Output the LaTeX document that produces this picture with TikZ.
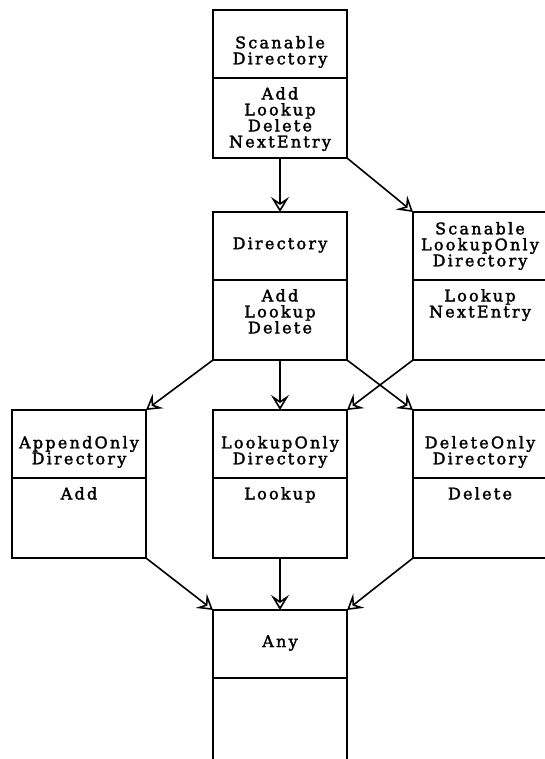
\documentclass[tikz,border=0pt]{standalone}
\usepackage{fontspec}
\setmainfont[LetterSpace=14,FakeBold=2]{DejaVu Serif}
\usetikzlibrary{arrows.meta}

\tikzset{
  classbox/.style={draw,line width=1.6pt,minimum width=134pt,minimum height=148pt,
    inner sep=0pt,outer sep=0pt},
  classname/.style={align=center,inner sep=0pt,font=\fontsize{16}{16}\selectfont},
  classops/.style={align=center,inner sep=0pt,anchor=north,font=\fontsize{16}{16}\selectfont},
  inherit/.style={line width=1.6pt,-{Stealth[open,length=15pt,width=18pt,inset=6pt]}}
}

\begin{document}
\begin{tikzpicture}[x=1pt,y=-1pt]
  \useasboundingbox (0,0) rectangle (545,759);

  % the class boxes, placed by their top left corner
  \node[classbox,anchor=north west] (sdir) at (213,10) {};
  \node[classbox,anchor=north west] (dir) at (213,212) {};
  \node[classbox,anchor=north west] (slod) at (413,212) {};
  \node[classbox,anchor=north west] (aodir) at (12,410) {};
  \node[classbox,anchor=north west] (lodir) at (213,410) {};
  \node[classbox,anchor=north west] (dodir) at (413,410) {};
  \node[classbox,anchor=north west,minimum height=156pt] (any) at (213,610) {};

  % line between name and operations
  \foreach \b in {sdir,dir,slod,aodir,lodir,dodir,any}
    \draw[line width=1.6pt] ([yshift=-68pt]\b.north west) -- ([yshift=-68pt]\b.north east);

  % names
  \node[classname] (sdir-name) at ([yshift=-42pt]sdir.north) {Scanable\\Directory};
  \node[classname] (dir-name) at ([yshift=-33pt]dir.north) {Directory};
  \node[classname] (slod-name) at ([yshift=-34pt]slod.north) {Scanable\\LookupOnly\\Directory};
  \node[classname] (aodir-name) at ([yshift=-42pt]aodir.north) {AppendOnly\\Directory};
  \node[classname] (lodir-name) at ([yshift=-42pt]lodir.north) {LookupOnly\\Directory};
  \node[classname] (dodir-name) at ([yshift=-42pt]dodir.north) {DeleteOnly\\Directory};
  \node[classname] (any-name) at ([yshift=-33pt]any.north) {Any};

  % operations
  \node[classops] (sdir-ops) at ([yshift=-77pt]sdir.north) {Add\\Lookup\\Delete\\NextEntry};
  \node[classops] (dir-ops) at ([yshift=-77pt]dir.north) {Add\\Lookup\\Delete};
  \node[classops] (slod-ops) at ([yshift=-77pt]slod.north) {Lookup\\NextEntry};
  \node[classops] (aodir-ops) at ([yshift=-77pt]aodir.north) {Add};
  \node[classops] (lodir-ops) at ([yshift=-77pt]lodir.north) {Lookup};
  \node[classops] (dodir-ops) at ([yshift=-77pt]dodir.north) {Delete};

  % inheritance
  \draw[inherit] (sdir.south) -- (dir.north);
  \draw[inherit] (sdir.south east) -- (slod.north west);
  \draw[inherit] (dir.south west) -- (aodir.north east);
  \draw[inherit] (dir.south) -- (lodir.north);
  \draw[inherit] (dir.south east) -- (dodir.north west);
  \draw[inherit] (slod.south west) -- (lodir.north east);
  \draw[inherit] (aodir.south east) -- (any.north west);
  \draw[inherit] (lodir.south) -- (any.north);
  \draw[inherit] (dodir.south west) -- (any.north east);
\end{tikzpicture}
\end{document}
